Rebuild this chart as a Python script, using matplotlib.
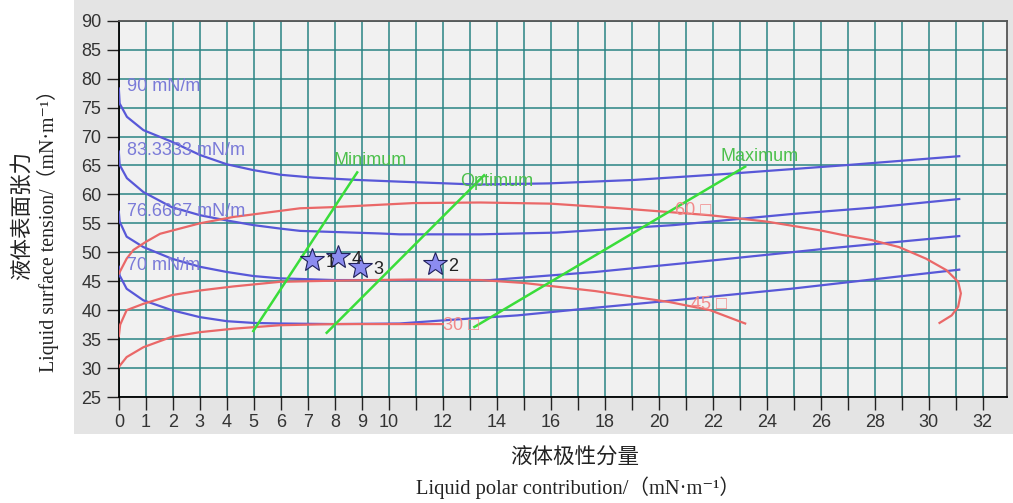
import matplotlib
matplotlib.use("Agg")
import matplotlib.pyplot as plt
from matplotlib.patches import Rectangle

# wetting envelope chart: liquid polar contribution vs liquid surface tension

# blue iso-lines (labelled by surface free energy)
blue_labels = ["90 mN/m", "83.3333 mN/m", "76.6667 mN/m", "70 mN/m"]
blue_label_y = [78.6, 67.5, 57.0, 47.8]
blue90_x = [0, 0.03, 0.3, 0.91, 1.96, 3.01, 4.0, 4.98, 5.97, 7.2, 8.81, 10.41, 12.14, 13.26, 15.92, 19.1, 22.7, 27.07, 31.13]
blue90_y = [78.3, 75.7, 73.4, 71.1, 69.1, 66.8, 65.2, 64.2, 63.4, 62.9, 62.5, 62.2, 61.9, 61.7, 61.9, 62.5, 63.6, 65.1, 66.6]
blue83_x = [0, 0.03, 0.3, 0.91, 1.96, 3.01, 4.0, 4.98, 5.97, 6.71, 9.67, 10.4, 13.38, 16.2, 20.56, 24.9, 27.9, 31.13]
blue83_y = [67.4, 65.1, 62.8, 60.4, 57.8, 56.4, 55.5, 54.7, 54.1, 53.7, 53.25, 53.1, 53.1, 53.4, 54.7, 56.6, 57.7, 59.2]
blue77_x = [0, 0.03, 0.29, 0.91, 1.96, 3.0, 4.0, 4.98, 5.97, 8.0, 10.4, 13.75, 17.65, 22.0, 26.35, 31.13]
blue77_y = [57.0, 55.3, 52.7, 50.9, 48.9, 47.5, 46.6, 45.9, 45.5, 45.2, 45.2, 45.2, 46.6, 48.6, 50.7, 52.8]
blue70_x = [0, 0.03, 0.29, 0.91, 1.96, 3.0, 4.0, 4.98, 5.97, 8.0, 10.4, 12.2, 14.76, 17.6, 20.56, 24.9, 27.9, 31.13]
blue70_y = [47.5, 46.0, 43.7, 41.7, 40.0, 38.8, 38.1, 37.8, 37.7, 37.6, 37.7, 38.3, 39.1, 40.4, 41.7, 43.7, 45.3, 47.0]

# red wetting envelopes (contact angle)
red_labels = ["60 □", "45 □", "30 □"]
red_label_x = [20.6, 21.2, 12.0]
red_label_y = [57.3, 40.9, 37.4]
red60_x = [0, 0.29, 0.54, 1.0, 1.53, 3.0, 4.24, 6.71, 7.94, 10.9, 13.4, 16.0, 18.57, 21.9, 24.0, 25.97, 26.8, 27.9, 28.9, 29.9, 30.66, 31.09, 31.19, 31.09, 30.85, 30.4]
red60_y = [46.3, 48.9, 50.4, 51.8, 53.2, 55.0, 56.1, 57.6, 57.8, 58.5, 58.6, 58.4, 57.6, 56.4, 55.3, 53.8, 53.0, 52.1, 50.9, 48.9, 46.9, 44.9, 42.9, 40.6, 39.1, 37.8]
red45_x = [0, 0.05, 0.29, 0.91, 1.96, 3.0, 4.24, 5.97, 8.0, 10.9, 13.4, 15.0, 17.65, 20.4, 21.9, 23.2]
red45_y = [35.5, 37.5, 40.0, 41.1, 42.6, 43.4, 44.1, 44.9, 45.1, 45.3, 45.2, 44.7, 43.3, 41.4, 40.0, 37.7]
red30_x = [0, 0.29, 0.91, 1.96, 3.0, 4.24, 5.97, 8.0, 10.9, 12.0]
red30_y = [30.2, 31.9, 33.6, 35.4, 36.2, 36.8, 37.4, 37.6, 37.6, 37.6]

# green limit lines
green_labels = ["Minimum", "Optimum", "Maximum"]
green_label_x = [7.94, 12.66, 22.27]
green_label_y = [65.8, 62.2, 66.6]
green_x = [[4.98, 8.83], [7.7, 13.53], [13.17, 23.2]]
green_y = [[36.4, 63.8], [36.1, 63.3], [37.1, 64.8]]

# measured samples
sample_names = ["1", "4", "3", "2"]
sample_x = [7.17, 8.13, 8.93, 11.71]
sample_y = [48.6, 49.1, 47.4, 47.9]

fig = plt.figure(figsize=(10.13, 5.03), dpi=100)
fig.patches.append(Rectangle((0.073, 0.137), 0.927, 0.863, transform=fig.transFigure,
                             facecolor="#e4e4e4", edgecolor="none", zorder=-10))
ax = fig.add_axes([0.1173, 0.2107, 0.8768, 0.7481])
ax.set_facecolor("#f1f1f1")

blue = "#5858d8"
red = "#ea6868"
green = "#3add3a"
sans = "Liberation Sans"

for xs, ys in [(blue90_x, blue90_y), (blue83_x, blue83_y), (blue77_x, blue77_y), (blue70_x, blue70_y)]:
    ax.plot(xs, ys, color=blue, lw=1.6, zorder=3)
for lab, ly in zip(blue_labels, blue_label_y):
    ax.text(0.29, ly, lab, color="#7a7ad8", fontsize=13, family=sans, va="center", ha="left", zorder=4)

for xs, ys in [(red60_x, red60_y), (red45_x, red45_y), (red30_x, red30_y)]:
    ax.plot(xs, ys, color=red, lw=1.6, zorder=3)
for lab, lx, ly in zip(red_labels, red_label_x, red_label_y):
    ax.text(lx, ly, lab, color="#f28a8a", fontsize=13, family=[sans, "DejaVu Sans"], va="center", ha="left", zorder=4)

for xs, ys in zip(green_x, green_y):
    ax.plot(xs, ys, color=green, lw=1.8, zorder=3)
for lab, lx, ly in zip(green_labels, green_label_x, green_label_y):
    ax.text(lx, ly, lab, color="#4cc04c", fontsize=13, family=sans, va="center", ha="left", zorder=4)

ax.plot(sample_x, sample_y, ls="none", marker="*", markersize=18, markerfacecolor="#8c8cf0",
        markeredgecolor="#20205a", markeredgewidth=0.8, zorder=5)
for name, sx, sy in zip(sample_names, sample_x, sample_y):
    ax.text(sx + 0.48, sy - 0.3, name, color="#222222", fontsize=13, family=sans, va="center", ha="left", zorder=6)

ax.set_xlim(0, 32.9)
ax.set_ylim(25, 90)
ax.set_xticks(range(0, 33))
ax.set_xticklabels([str(i) if (i <= 10 or i % 2 == 0) else "" for i in range(0, 33)])
ax.set_yticks(range(25, 91, 5))
ax.tick_params(axis="both", direction="out", length=9, width=1, color="#222222",
               labelsize=13, labelcolor="#333333")
for lab in ax.get_xticklabels() + ax.get_yticklabels():
    lab.set_family(sans)
ax.grid(True, color="#2a8484", lw=1.1, zorder=1)
ax.set_axisbelow(True)
for side in ["left", "bottom"]:
    ax.spines[side].set_color("black")
    ax.spines[side].set_linewidth(1.3)
for side in ["top", "right"]:
    ax.spines[side].set_color("#555555")
    ax.spines[side].set_linewidth(1.3)

title_fonts = ["Liberation Serif", "Noto Sans CJK SC", "DejaVu Serif"]
fig.text(0.5676, 0.0895, "液体极性分量", family=["Noto Sans CJK SC"], fontsize=15.5,
         ha="center", va="center", color="#222222")
fig.text(0.5705, 0.03, "Liquid polar contribution/（mN·m⁻¹）", family=title_fonts, fontsize=14.8,
         ha="center", va="center", color="#222222")
fig.text(0.022, 0.571, "液体表面张力", family=["Noto Sans CJK SC"], fontsize=15.5,
         ha="center", va="center", rotation=90, color="#222222")
fig.text(0.047, 0.55, "Liquid surface tension/（mN·m⁻¹）", family=title_fonts, fontsize=14.3,
         ha="center", va="center", rotation=90, color="#222222")

plt.savefig("out.png", dpi=100)
